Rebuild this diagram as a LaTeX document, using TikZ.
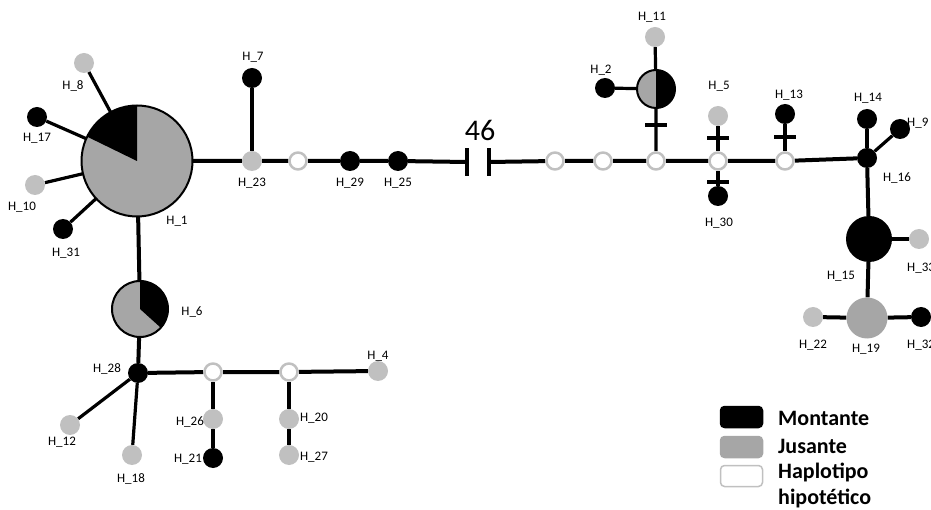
\documentclass[tikz,border=0pt]{standalone}
\usepackage{fontspec}
\setmainfont{Carlito}
\usetikzlibrary{backgrounds}
\definecolor{jusante}{HTML}{A6A6A6}
\definecolor{jusclaro}{HTML}{C0C0C0}
\begin{document}
\begin{tikzpicture}[x=1pt, y=-1pt, line join=round,
	hap/.style={circle, inner sep=0pt, minimum size=20pt},
	mon/.style={hap, fill=black},
	jus/.style={hap, fill=jusclaro},
	hipo/.style={circle, inner sep=0pt, minimum size=17pt, fill=white, draw=jusclaro, line width=2.5pt},
	pie/.style={circle, inner sep=0pt, fill=jusante},
	lig/.style={line width=4pt},
	ram/.style={line width=3.2pt},
	mut/.style={fill=black, inner sep=0pt, minimum width=4pt, minimum height=22pt, sloped},
	corte/.style={fill=black, inner sep=0pt, minimum width=4pt, minimum height=28pt},
	lbl/.style={font=\fontsize{13}{15}\selectfont, inner sep=0pt},
	leg/.style={rectangle, rounded corners=4pt, minimum width=42pt, minimum height=21pt, line width=1.5pt},
	legtxt/.style={font=\fontsize{22}{26}\selectfont\bfseries, inner sep=0pt, anchor=west, align=left}]
	\useasboundingbox (0,0) rectangle (931,510);
	% Haplotipos grandes (pizzas)
	\node[pie, minimum size=111pt] (h1) at (137,161) {};
	\node[pie, minimum size=56pt] (h6) at (140,309) {};
	\node[pie, minimum size=38pt] (p3) at (656,89) {};
	\node[mon, minimum size=46pt] (h15) at (869,239) {};
	\node[pie, minimum size=41pt] (h19) at (867,318) {};
	% Haplotipos pequenos
	\foreach \n/\x/\y in {h8/84/63, h10/35/185, h23/252/161, h11/655/37, h5/718/116,
		h33/919/239, h22/813/317, h12/70/425, h18/132/455, h4/378/371, h26/213/419,
		h20/289/419, h27/289/455}
	\node[jus] (\n) at (\x,\y) {};
	\foreach \n/\x/\y in {h17/37/117, h31/63/229, h7/252/78, h29/350/161, h25/398/161,
		h2/605/88, h30/718/196, h13/785/114, h16/867/158, h14/867/119, h9/900/129,
		h32/921/317, h28/138/373, h21/213/458}
	\node[mon] (\n) at (\x,\y) {};
	% Haplotipos hipoteticos
	\foreach \n/\x/\y in {x1/298/161, x2/555/161, x3/603/161, x4/656/161, x5/718/161,
		x6/785/161, y1/213/372, y2/289/372}
	\node[hipo] (\n) at (\x,\y) {};
	% Corte com 46 passos
	\node[corte] (q1) at (467,162) {};
	\node[corte] (q2) at (489,162) {};
	\node[font=\fontsize{30}{32}\selectfont, inner sep=0pt] (n46) at (480,130) {46};
	% Ligacoes
	\begin{scope}[on background layer]
		\draw[lig] (h1) -- (h23) -- (x1) -- (h29) -- (h25) -- (q1);
		\draw[lig] (q2) -- (x2) -- (x3) -- (x4) -- (x5) -- (x6) -- (h16);
		\draw[ram] (h1) -- (h8);
		\draw[ram] (h1) -- (h17);
		\draw[ram] (h1) -- (h10);
		\draw[ram] (h1) -- (h31);
		\draw[ram] (h23) -- (h7);
		\draw[lig] (h1) -- (h6) -- (h28);
		\draw[ram] (h28) -- (h12);
		\draw[ram] (h28) -- (h18);
		\draw[lig] (h28) -- (y1) -- (y2) -- (h4);
		\draw[ram] (y1) -- (h26) -- (h21);
		\draw[ram] (y2) -- (h20) -- (h27);
		\draw[ram] (x4) -- (p3) -- (h11);
		\draw[ram] (p3) -- (h2);
		\draw[ram] (x5) -- (h5);
		\draw[ram] (x5) -- (h30);
		\draw[ram] (x6) -- (h13);
		\draw[ram] (h16) -- (h14);
		\draw[ram] (h16) -- (h9);
		\draw[lig] (h16) -- (h15) -- (h19);
		\draw[lig] (h15) -- (h33);
		\draw[lig] (h22) -- (h19) -- (h32);
	\end{scope}
	% Mutacoes
	\path (p3.center) -- node[mut, pos=0.5] (m1) {} (x4.center);
	\path (h5.center) -- node[mut, pos=0.48] (m2) {} (x5.center);
	\path (x5.center) -- node[mut, pos=0.6] (m3) {} (h30.center);
	\path (h13.center) -- node[mut, pos=0.5] (m4) {} (x6.center);
	% Fatias pretas
	\fill (h1.center) -- ++(-90:55.5) arc[start angle=-90, end angle=-154, radius=55.5] -- cycle;
	\draw[line width=2pt] (h1.center) circle[radius=55.5];
	\fill (h6.center) -- ++(42:28) arc[start angle=42, end angle=-90, radius=28] -- cycle;
	\draw[line width=2pt] (h6.center) circle[radius=28];
	\fill (p3.center) -- ++(90:19) arc[start angle=90, end angle=-90, radius=19] -- cycle;
	\draw[line width=2pt] (p3.center) circle[radius=19];
	% Rotulos
	\foreach \n/\x/\y/\t in {l1/177/221/H\_1, l8/73/86/H\_8, l17/37/138/H\_17, l10/22/207/H\_10,
		l31/66/253/H\_31, l23/252/183/H\_23, l7/253/57/H\_7, l29/350/183/H\_29, l25/398/183/H\_25,
		l11/652/17/H\_11, l2/601/70/H\_2, l5/719/86/H\_5, l30/719/223/H\_30, l13/789/95/H\_13,
		l14/868/98/H\_14, l16/897/178/H\_16, l15/841/276/H\_15, l22/813/345/H\_22,
		l19/866/349/H\_19, l6/192/312/H\_6, l28/107/369/H\_28, l12/62/442/H\_12,
		l18/131/479/H\_18, l4/378/356/H\_4, l26/190/422/H\_26, l21/188/459/H\_21,
		l20/314/418/H\_20, l27/314/457/H\_27}
	\node[lbl] (\n) at (\x,\y) {\t};
	\node[lbl, anchor=west] (l9) at (907,123) {H\_9};
	\node[lbl, anchor=west] (l33) at (907,268) {H\_33};
	\node[lbl, anchor=west] (l32) at (907,345) {H\_32};
	% Legenda
	\node[leg, fill=black, draw=black] (lm) at (741.5,417) {};
	\node[leg, fill=jusante, draw=jusante] (lj) at (741.5,447) {};
	\node[leg, fill=white, draw=jusclaro] (lh) at (741.5,476) {};
	\node[legtxt] (tm) at (778,418) {Montante};
	\node[legtxt] (tj) at (778,446) {Jusante};
	\node[legtxt] (th) at (778,485) {Haplotipo\\hipotético};
\end{tikzpicture}
\end{document}
